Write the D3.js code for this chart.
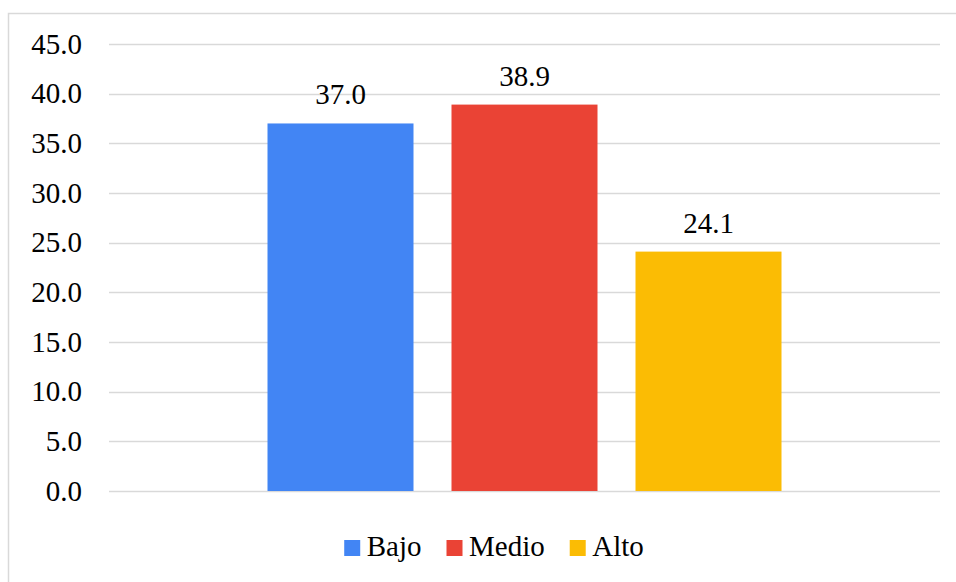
<!DOCTYPE html>
<html>
<head>
<meta charset="utf-8">
<script src="https://cdn.jsdelivr.net/npm/d3@7"></script>
<style>
  html, body { margin: 0; padding: 0; background: #fff; }
  svg { display: block; }
</style>
</head>
<body>
<svg id="chart" width="956" height="582"></svg>
<script>
// Data
const categories = ["Nivel"];
const seriesNames = ["Bajo", "Medio", "Alto"];
const seriesValues = [37.0, 38.9, 24.1];
const seriesColors = ["#4285F4", "#EA4335", "#FBBC04"];
const yTicks = [0, 5, 10, 15, 20, 25, 30, 35, 40, 45];

const FONT = "'Times New Roman', Tinos, 'Liberation Serif', 'DejaVu Serif', serif";
const fontSize = 29;

const svg = d3.select("#chart");
const plot = { left: 109, right: 940, top: 44, bottom: 491 };

// Outer chart frame
svg.append("rect")
  .attr("x", 8.5).attr("y", 13.5)
  .attr("width", 980).attr("height", 600)
  .attr("fill", "#fff").attr("stroke", "#d9d9d9").attr("stroke-width", 1.5);

const y = d3.scaleLinear().domain([0, 45]).range([plot.bottom, plot.top]);
const x0 = d3.scaleBand().domain(categories).range([plot.left, plot.right]);
const x1 = d3.scaleBand().domain(seriesNames)
  .range([x0(categories[0]) + 158.5, x0(categories[0]) + x0.bandwidth() - 158.5])
  .paddingInner(38 / 184).paddingOuter(0);

// Gridlines
svg.append("g").selectAll("line").data(yTicks).join("line")
  .attr("x1", plot.left).attr("x2", plot.right)
  .attr("y1", d => Math.round(y(d)) + 0.5).attr("y2", d => Math.round(y(d)) + 0.5)
  .attr("stroke", "#d9d9d9").attr("stroke-width", 1.5);

// Y axis labels
const yAxis = d3.axisLeft(y).tickValues(yTicks).tickFormat(d3.format(".1f")).tickSize(0).tickPadding(27);
const ga = svg.append("g").attr("transform", `translate(${plot.left},0)`).call(yAxis);
ga.select(".domain").remove();
ga.attr("font-family", null).attr("font-size", null);
ga.selectAll("text").attr("fill", "#000")
  .style("font-family", FONT).style("font-size", fontSize + "px");

// Bars
const data = seriesNames.map((s, i) => ({ name: s, value: seriesValues[i], color: seriesColors[i] }));
svg.append("g").selectAll("rect").data(data).join("rect")
  .attr("x", d => x1(d.name))
  .attr("width", x1.bandwidth())
  .attr("y", d => y(d.value))
  .attr("height", d => y(0) - y(d.value))
  .attr("fill", d => d.color);

// Value labels
svg.append("g").selectAll("text").data(data).join("text")
  .attr("x", d => x1(d.name) + x1.bandwidth() / 2)
  .attr("y", d => y(d.value) - 19)
  .attr("text-anchor", "middle")
  .style("font-family", FONT)
  .style("font-size", fontSize + "px")
  .attr("fill", "#000")
  .text(d => d3.format(".1f")(d.value));

// Legend
const legend = svg.append("g");
const items = legend.selectAll("g").data(data).join("g");
items.append("rect").attr("width", 16).attr("height", 16).attr("y", -16).attr("fill", d => d.color);
items.append("text").attr("x", 22.5).attr("y", 0)
  .style("font-family", FONT).style("font-size", fontSize + "px").attr("fill", "#000")
  .text(d => d.name);
const itemGap = 25;
let offset = 0;
items.each(function () {
  d3.select(this).attr("transform", `translate(${offset},0)`);
  offset += this.getBBox().width + itemGap;
});
const total = offset - itemGap;
legend.attr("transform", `translate(${494 - total / 2},556)`);
</script>
</body>
</html>
